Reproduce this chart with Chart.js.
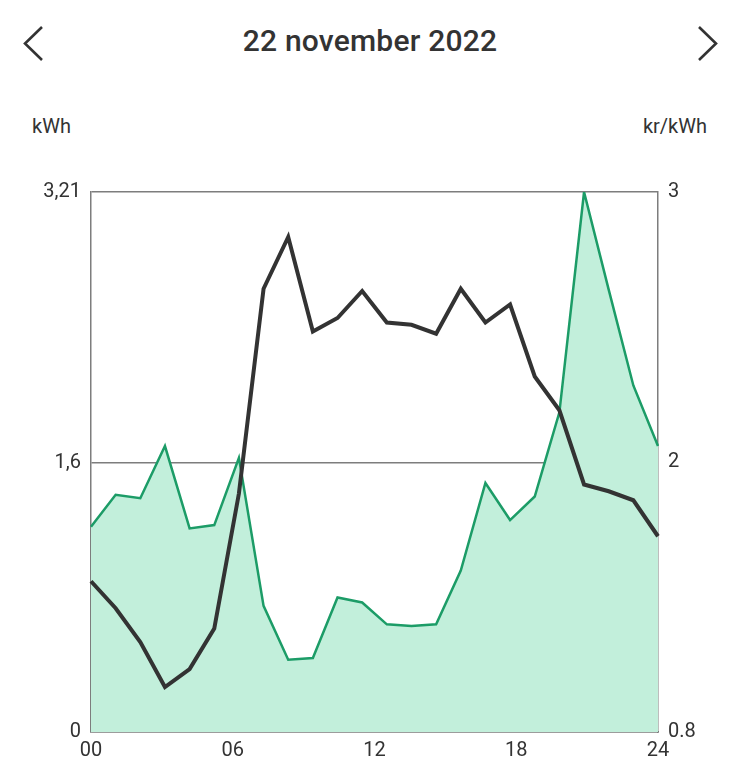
<!DOCTYPE html>
<html>
<head>
<meta charset="utf-8">
<script src="https://cdn.jsdelivr.net/npm/chart.js@4/dist/chart.umd.min.js"></script>
<style>
  html, body { margin: 0; padding: 0; background: #fff; }
  body { width: 740px; height: 779px; position: relative; overflow: hidden; font-family: Roboto, "Noto Sans", sans-serif; color: #333; }
  #title { position: absolute; left: 0; width: 740px; top: 23px; text-align: center; font-size: 30px; font-weight: 500; letter-spacing: 0.2px; color: #333; }
  .unit { position: absolute; top: 114px; font-size: 20px; color: #333; }
  #unitL { left: 32px; }
  #unitR { right: 33px; }
  .arrow { position: absolute; top: 24px; }
  #arrL { left: 20px; }
  #arrR { left: 694px; }
  #wrap { position: absolute; left: 0; top: 0; width: 740px; height: 779px; }
</style>
</head>
<body>
<div id="title">22 november 2022</div>
<svg class="arrow" id="arrL" width="28" height="40" viewBox="0 0 28 40"><polyline points="22,3 5,19.5 22,36" fill="none" stroke="#333" stroke-width="2.6"/></svg>
<svg class="arrow" id="arrR" width="28" height="40" viewBox="0 0 28 40"><polyline points="5,3 22,19.5 5,36" fill="none" stroke="#333" stroke-width="2.6"/></svg>
<div class="unit" id="unitL">kWh</div>
<div class="unit" id="unitR">kr/kWh</div>
<div id="wrap"><canvas id="c" width="740" height="779"></canvas></div>
<script>
// Hours (24 hourly points)
const hours = ['00','01','02','03','04','05','06','07','08','09','10','11','12','13','14','15','16','17','18','19','20','21','22','23'];
// Consumption, kWh (left axis)
const consumption = [1.22, 1.41, 1.39, 1.70, 1.21, 1.23, 1.63, 0.75, 0.43, 0.44, 0.80, 0.77, 0.64, 0.63, 0.64, 0.96, 1.48, 1.26, 1.40, 1.90, 3.21, 2.63, 2.06, 1.70];
// Price, kr/kWh (right axis)
const price = [1.47, 1.35, 1.20, 1.00, 1.08, 1.26, 1.86, 2.77, 3.00, 2.58, 2.64, 2.76, 2.62, 2.61, 2.57, 2.77, 2.62, 2.70, 2.38, 2.23, 1.90, 1.87, 1.83, 1.67];
// Axis ticks
const leftTickValues = [0, 1.6, 3.21];
const leftTickLabels = ['0', '1,6', '3,21'];
const rightTickValues = [0.8, 2, 3.2];
const rightTickLabels = ['0.8', '2', '3'];
const xTickValues = [0, 6, 12, 18, 24];
const xTickLabels = ['00', '06', '12', '18', '24'];

const textColor = '#333';
const gridColor = '#7d7d7d';
const tickFont = { family: 'Roboto', size: 20 };

new Chart(document.getElementById('c'), {
  type: 'line',
  data: {
    labels: hours,
    datasets: [
      {
        label: 'Pris',
        data: price,
        yAxisID: 'yR',
        xAxisID: 'x',
        borderColor: '#333333',
        borderWidth: 4,
        pointRadius: 0,
        fill: false,
        tension: 0,
        order: 0
      },
      {
        label: 'Förbrukning',
        data: consumption,
        yAxisID: 'yL',
        xAxisID: 'x',
        borderColor: '#1c9c67',
        backgroundColor: '#c2efdb',
        borderWidth: 2.5,
        pointRadius: 0,
        fill: 'origin',
        tension: 0,
        order: 1
      }
    ]
  },
  options: {
    responsive: false,
    animation: false,
    events: [],
    layout: { padding: { top: 192, left: 0, right: 0, bottom: 0 } },
    plugins: { legend: { display: false }, tooltip: { enabled: false }, title: { display: false } },
    scales: {
      x: {
        type: 'category',
        display: false,
        offset: false
      },
      xt: {
        type: 'linear',
        position: 'bottom',
        min: 0, max: 24,
        afterBuildTicks: s => { s.ticks = xTickValues.map(v => ({ value: v })); },
        afterFit: s => { s.height = 47; },
        ticks: {
          color: textColor, font: tickFont, padding: 7, maxRotation: 0, autoSkip: false,
          callback: (v) => xTickLabels[xTickValues.indexOf(v)]
        },
        grid: { display: false, drawTicks: false },
        border: { display: true, color: gridColor, width: 1.5 }
      },
      yL: {
        type: 'linear',
        position: 'left',
        min: 0, max: 3.21,
        afterBuildTicks: s => { s.ticks = leftTickValues.map(v => ({ value: v })); },
        afterFit: s => { s.width = 91; },
        ticks: {
          color: textColor, font: tickFont, padding: 10, autoSkip: false,
          callback: (v) => leftTickLabels[leftTickValues.indexOf(v)]
        },
        grid: { display: true, color: gridColor, lineWidth: 1.5, drawTicks: false },
        border: { display: true, color: gridColor, width: 1.5 }
      },
      yR: {
        type: 'linear',
        position: 'right',
        min: 0.8, max: 3.2,
        afterBuildTicks: s => { s.ticks = rightTickValues.map(v => ({ value: v })); },
        afterFit: s => { s.width = 82; },
        ticks: {
          color: textColor, font: tickFont, padding: 10, autoSkip: false,
          callback: (v) => rightTickLabels[rightTickValues.indexOf(v)]
        },
        grid: { display: false, drawTicks: false },
        border: { display: true, color: gridColor, width: 1.5 }
      }
    }
  }
});
</script>
</body>
</html>
